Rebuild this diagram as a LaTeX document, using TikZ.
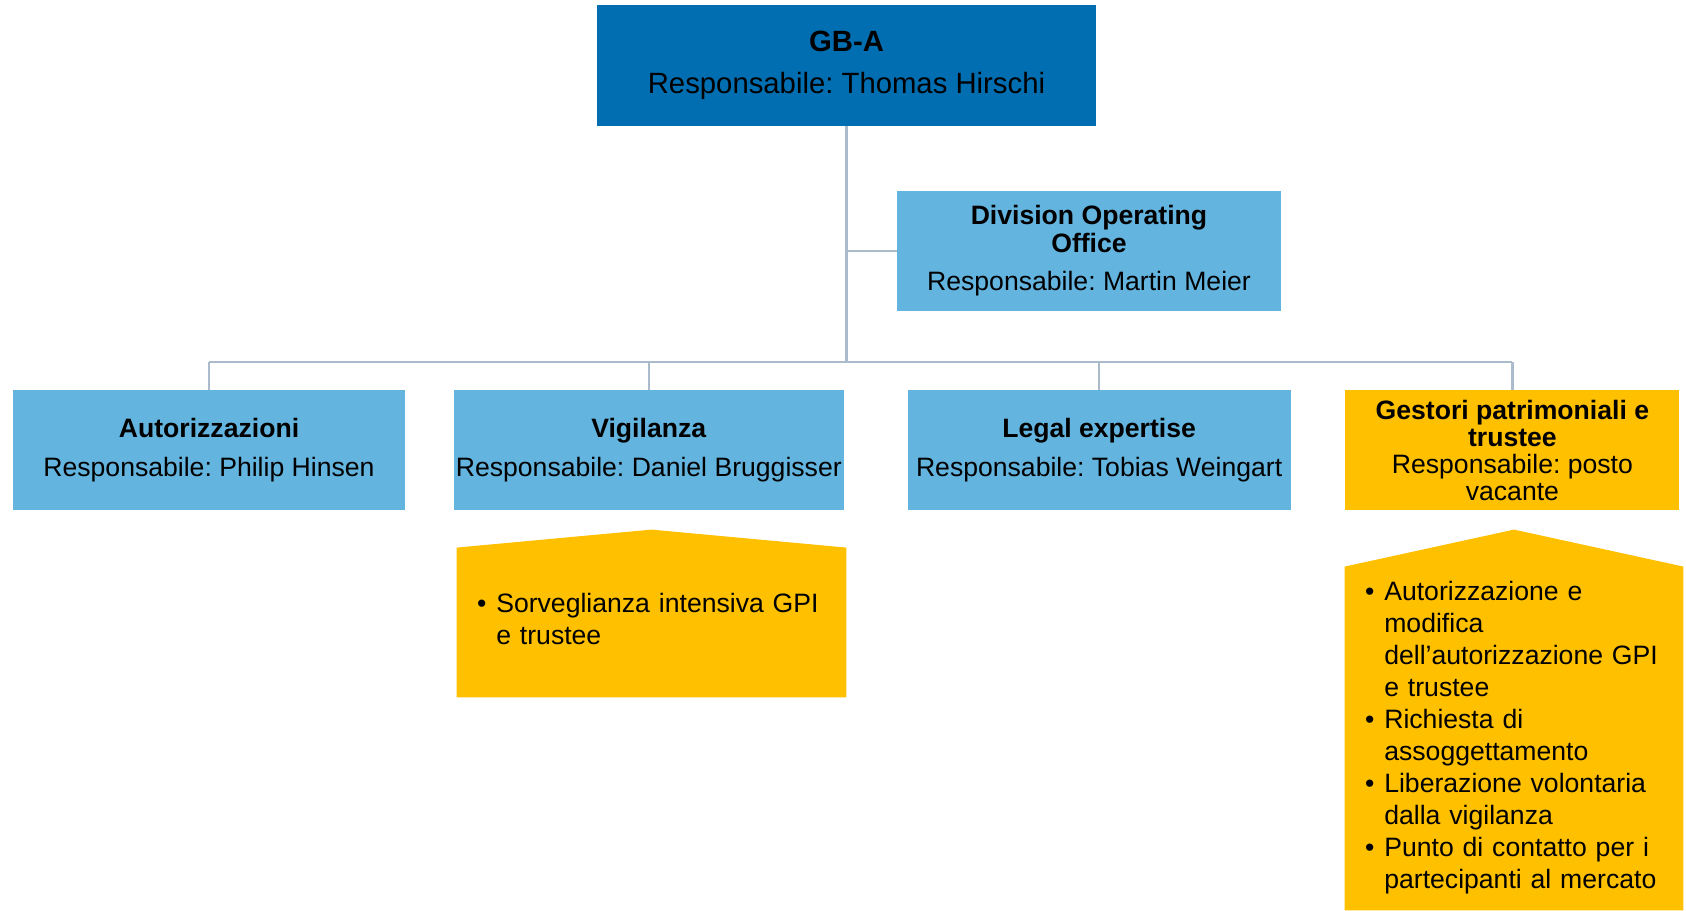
\documentclass[tikz,border=0pt]{standalone}
\usepackage{fontspec}
\setmainfont{Liberation Sans}
\usepackage{tikz}
\usetikzlibrary{positioning, backgrounds}
\definecolor{gbablue}{RGB}{0, 110, 176}
\definecolor{unitblue}{RGB}{99, 180, 223}
\definecolor{unitamber}{RGB}{255, 192, 0}
\definecolor{linkgray}{RGB}{170, 188, 204}
\frenchspacing

\begin{document}
\begin{tikzpicture}[x=0.5pt, y=-0.5pt,
    headbox/.style={fill=gbablue, align=center, minimum width=249.5pt, minimum height=60.5pt, inner xsep=2pt, font=\fontsize{14.65}{15.5}\selectfont, text=black},
    unitbox/.style={fill=unitblue, align=center, minimum width=195pt, minimum height=60pt, inner xsep=1pt, font=\fontsize{13.3}{14}\selectfont, text=black},
    vacantbox/.style={unitbox, fill=unitamber, font=\fontsize{13.3}{13.5}\selectfont},
    taskbox/.style={align=left, inner xsep=10pt, font=\fontsize{13.3}{16}\selectfont, text=black},
    link/.style={draw=linkgray, line width=1.3pt}
]
    \useasboundingbox (0,0) rectangle (1686,910);

    % Nodos
    \node (gba) [headbox] at (846.5,65.5) {\textbf{GB-A}\\[5.5pt]
        Responsabile: Thomas Hirschi};

    \node (doo) [unitbox, minimum width=192pt] at (1089,251) {\textbf{Division Operating}\\
        \textbf{Office}\\[5pt]
        Responsabile: Martin Meier};

    \node (aut) [unitbox, minimum width=196pt] at (209,450) {\textbf{Autorizzazioni}\\[5.5pt]
        Responsabile: Philip Hinsen};

    \node (vig) [unitbox, right=24pt of aut] {\textbf{Vigilanza}\\[5.5pt]
        Responsabile: Daniel Bruggisser};

    \node (leg) [unitbox, minimum width=191.5pt, right=31.5pt of vig] {\textbf{Legal expertise}\\[5.5pt]
        Responsabile: Tobias Weingart};

    \node (ges) [vacantbox, minimum width=167pt, right=27pt of leg] {\textbf{Gestori patrimoniali e}\\
        \textbf{trustee}\\
        Responsabile: posto\\
        vacante};

    \node (vigtask) [taskbox, text width=174.5pt, minimum height=74.5pt] at (651.5,622.5) {%
        \begin{tabular}{@{}l@{\hspace{5pt}}l@{}}
        \textbullet & Sorveglianza intensiva GPI\\
                    & e trustee
        \end{tabular}};

    \node (gestask) [taskbox, text width=149pt, minimum height=171.5pt] at (1514,738.5) {%
        \begin{tabular}{@{}l@{\hspace{5pt}}l@{}}
        \textbullet & Autorizzazione e\\
                    & modifica\\
                    & dell’autorizzazione GPI\\
                    & e trustee\\
        \textbullet & Richiesta di\\
                    & assoggettamento\\
        \textbullet & Liberazione volontaria\\
                    & dalla vigilanza\\
        \textbullet & Punto di contatto per i\\
                    & partecipanti al mercato
        \end{tabular}};

    % Fondos
    \begin{scope}[on background layer]
        \fill[unitamber] (vigtask.south west) -- (vigtask.north west) -- ([yshift=9pt]vigtask.north)
            -- (vigtask.north east) -- (vigtask.south east) -- cycle;
        \fill[unitamber] (gestask.south west) -- (gestask.north west) -- ([yshift=18.5pt]gestask.north)
            -- (gestask.north east) -- (gestask.south east) -- cycle;
    \end{scope}

    % Lineas
    \coordinate (bus) at (846,362);
    \draw [link] (gba.south) -- (gba.south |- bus);
    \draw [link] (gba.south |- doo.west) -- (doo.west);
    \draw [link] (aut.north |- bus) -- (ges.north |- bus);
    \foreach \u in {aut,vig,leg,ges}
        \draw [link] (\u.north |- bus) -- (\u.north);
\end{tikzpicture}
\end{document}
